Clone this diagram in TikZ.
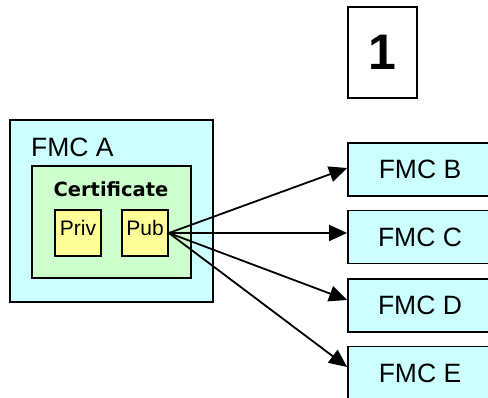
\documentclass[tikz,border=0pt]{standalone}
\usepackage{fontspec}
\setmainfont{Liberation Sans}
\newfontfamily\certfont{DejaVu Sans}
\usetikzlibrary{arrows.meta}
\definecolor{lightcyan}{RGB}{204,255,255}
\definecolor{lightgreen}{RGB}{204,255,204}
\definecolor{lightyellow}{RGB}{255,255,153}

\begin{document}
\begin{tikzpicture}[x=1pt,y=-1pt,
        box/.style={draw,line width=1.8pt,inner sep=0pt},
        fmcbox/.style={box,fill=lightcyan,minimum width=144pt,minimum height=53pt,font=\fontsize{26.5}{26.5}\selectfont},
        keybox/.style={box,fill=lightyellow,minimum width=46pt,text height=25.5pt,text depth=20.5pt,font=\fontsize{21}{21}\selectfont},
        link/.style={line width=1.8pt,-{Triangle[length=18pt,width=16pt]}}]
        \useasboundingbox (0,0) rectangle (488,398);

        \coordinate (a) at (111.5,211);
        \coordinate (cert) at (111.5,222);
        \coordinate (k1) at (78,233);
        \coordinate (k2) at (145,233);
        \coordinate (n) at (382.5,52.5);

        \coordinate (r1) at (420,169.5);
        \coordinate (r2) at (420,237);
        \coordinate (r3) at (420,305.5);
        \coordinate (r4) at (420,373);

        \node[box,fill=lightcyan,minimum width=203pt,minimum height=182pt] (fmcA) at (a){};
        \node[anchor=base west,inner sep=0pt,font=\fontsize{26.5}{26.5}\selectfont] (fmcAlabel) at (31,157) {FMC A};
        \node[box,fill=lightgreen,minimum width=159pt,minimum height=112pt] (certbox) at (cert){};
        \node[anchor=base,inner sep=0pt,font=\certfont\bfseries\fontsize{19.5}{19.5}\selectfont] (certlabel) at (111,197) {Certificate};
        \node[keybox] (priv) at (k1) {Priv};
        \node[keybox] (pub) at (k2) {Pub};

        \node[box,minimum width=69pt,minimum height=91pt,font=\bfseries\fontsize{50}{50}\selectfont] (step1) at (n) {1};

        \node[fmcbox] (fmcB) at (r1) {FMC B};
        \node[fmcbox] (fmcC) at (r2) {FMC C};
        \node[fmcbox] (fmcD) at (r3) {FMC D};
        \node[fmcbox] (fmcE) at (r4) {FMC E};

        \draw[link] (pub.east) -- ([yshift=1.5pt]fmcB.west);
        \draw[link] (pub.east) -- ([yshift=4pt]fmcC.west);
        \draw[link] (pub.east) -- ([yshift=5.5pt]fmcD.west);
        \draw[link] (pub.east) -- ([yshift=6pt]fmcE.west);
    \end{tikzpicture}
\end{document}
